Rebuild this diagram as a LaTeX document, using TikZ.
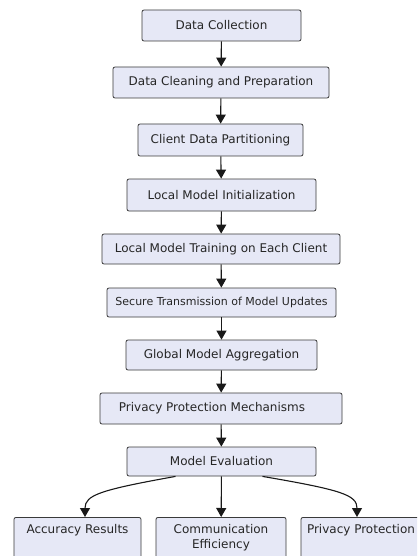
\documentclass[tikz,border=0pt]{standalone}
\usepackage{fontspec}
\setmainfont{DejaVu Sans}
\usetikzlibrary{arrows.meta,calc}
\definecolor{boxfill}{HTML}{E6E8F6}
\definecolor{boxline}{HTML}{3A3A3A}
\begin{document}
\begin{tikzpicture}[x=1pt,y=-1pt,
  stepbox/.style={draw=boxline,fill=boxfill,line width=0.8pt,rounded corners=2pt,
    inner sep=0pt,font=\fontsize{12}{13}\selectfont,text=black!85},
  leafbox/.style={draw=boxline,fill=boxfill,line width=0.8pt,rounded corners=2pt,
    inner sep=0pt,minimum height=60pt,anchor=north},
  leaftext/.style={font=\fontsize{12}{15.5}\selectfont,text=black!85,align=center,anchor=north,inner sep=0pt},
  flow/.style={-{Triangle[width=10pt,length=9pt]},line width=1.1pt,black!90}]
\useasboundingbox (0,0) rectangle (417,556);
\clip (0,0) rectangle (417,556);
\fill[white] (0,0) rectangle (417,556);

\node[stepbox,minimum width=159pt,minimum height=31pt] (n1) at (221.5,25.5) {Data Collection};
\node[stepbox,minimum width=216pt,minimum height=31pt] (n2) at (221,82.5) {Data Cleaning and Preparation};
\node[stepbox,minimum width=165pt,minimum height=32pt] (n3) at (220.5,140) {Client Data Partitioning};
\node[stepbox,minimum width=189pt,minimum height=32pt] (n4) at (221.5,195) {Local Model Initialization};
\node[stepbox,minimum width=238pt,minimum height=30pt] (n5) at (221,249) {Local Model Training on Each Client};
\node[stepbox,minimum width=229pt,minimum height=29pt,font=\fontsize{11}{13}\selectfont] (n6) at (221.5,302.5) {Secure Transmission of Model Updates};
\node[stepbox,minimum width=191pt,minimum height=30pt] (n7) at (221.5,355) {Global Model Aggregation};
\node[stepbox,minimum width=242pt,minimum height=31pt] (n8) at (221,408.5) {\hspace*{-18pt}Privacy Protection Mechanisms};
\node[stepbox,minimum width=189pt,minimum height=29pt] (n9) at (221.5,461.5) {Model Evaluation};

\node[leafbox,minimum width=127pt] (acc) at (77.5,517) {};
\node[leaftext] (acct) at ($(acc.north)+(0,7)$) {Accuracy Results};
\node[leafbox,minimum width=130pt] (com) at (221,517) {};
\node[leaftext] (comt) at ($(com.north)+(0,7)$) {Communication\\Efficiency};
\node[leafbox,minimum width=124pt] (pri) at (363,517) {};
\node[leaftext] (prit) at ($(pri.north)+(-2,7)$) {Privacy Protection};

\draw[flow] (n1) -- (n2);
\draw[flow] (n2) -- (n3);
\draw[flow] (n3) -- (n4);
\draw[flow] (n4) -- (n5);
\draw[flow] (n5) -- (n6);
\draw[flow] (n6) -- (n7);
\draw[flow] (n7) -- (n8);
\draw[flow] (n8) -- (n9);
\draw[flow] (n9) -- (com);
\coordinate (ls) at ($(n9.south)+(-46,0)$);
\coordinate (le) at ($(acc.north)+(7.5,0)$);
\coordinate (rs) at ($(n9.south)+(41,0)$);
\coordinate (re) at ($(pri.north)+(-6,0)$);
\draw[flow] (ls) .. controls (100,490) and (85,495) .. (le);
\draw[flow] (rs) .. controls (342,490) and (357,495) .. (re);
\end{tikzpicture}
\end{document}
